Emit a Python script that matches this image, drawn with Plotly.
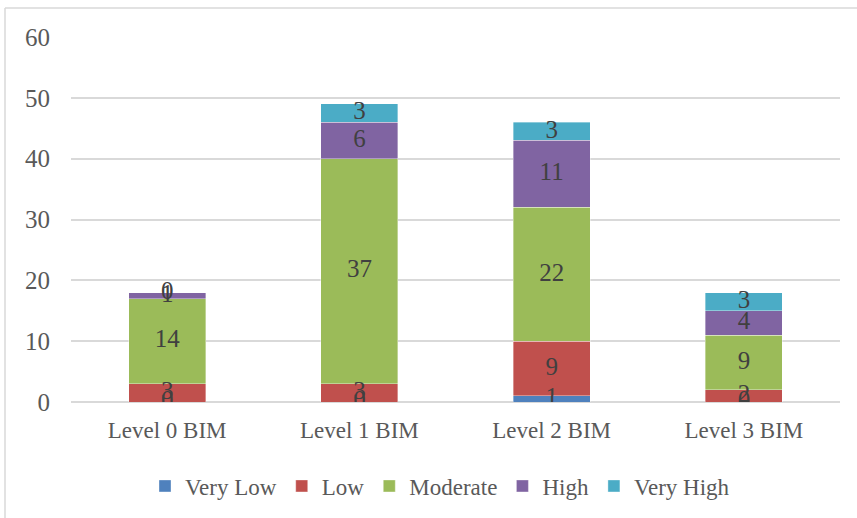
import plotly.graph_objects as go

categories = ["Level 0 BIM", "Level 1 BIM", "Level 2 BIM", "Level 3 BIM"]
series_names = ["Very Low", "Low", "Moderate", "High", "Very High"]
very_low = [0, 0, 1, 0]
low = [3, 3, 9, 2]
moderate = [14, 37, 22, 9]
high = [1, 6, 11, 4]
very_high = [0, 3, 3, 3]
colors = ["#4F81BD", "#C0504D", "#9BBB59", "#8064A2", "#4BACC6"]
y_ticks = [0, 10, 20, 30, 40, 50, 60]

series = [very_low, low, moderate, high, very_high]

FONT = "Liberation Serif"
FS = 23      # word labels
FS_NUM = 25  # numeric labels
fig = go.Figure()

for name, vals, col in zip(series_names, series, colors):
    fig.add_trace(go.Bar(
        x=categories, y=vals, name=name,
        marker=dict(color=col, line=dict(color="rgba(255,255,255,0.6)", width=0.6)),
    ))

# value labels centred on each segment (zero segments sit on the baseline)
base = [0] * len(categories)
for vals in series:
    mids = [b + v / 2 for b, v in zip(base, vals)]
    fig.add_trace(go.Scatter(
        x=categories, y=mids, mode="text", text=[str(v) for v in vals],
        textposition="middle center",
        textfont=dict(family=FONT, size=FS_NUM, color="#404040"),
        showlegend=False, hoverinfo="skip",
    ))
    base = [b + v for b, v in zip(base, vals)]

W, H = 857, 518
L, R, T, B = 71, 17, 37, 116
pw, ph = W - L - R, H - T - B


def px_x(p):
    return (p - L) / pw


def px_y(p):
    return (T + ph - p) / ph


fig.update_layout(
    width=W, height=H,
    barmode="stack", bargap=0.6,
    margin=dict(l=L, r=R, t=T, b=B, autoexpand=False),
    paper_bgcolor="white", plot_bgcolor="white",
    font=dict(family=FONT, size=FS, color="#595959"),
    xaxis=dict(showgrid=False, showline=False, ticks="", ticklabelstandoff=12,
               tickfont=dict(size=FS, color="#595959")),
    yaxis=dict(range=[0, 60], tickvals=y_ticks, showgrid=True, gridcolor="#d9d9d9", gridwidth=1.5,
               zeroline=True, zerolinecolor="#d9d9d9", zerolinewidth=1.5,
               ticks="", ticklabelstandoff=20, tickfont=dict(size=FS_NUM, color="#595959")),
    legend=dict(orientation="h", x=px_x(440), xanchor="center",
                y=px_y(486), yanchor="middle",
                font=dict(size=FS, color="#595959"), itemwidth=30, traceorder="normal"),
    shapes=[
        dict(type="line", xref="paper", yref="paper",
             x0=px_x(5), x1=px_x(5), y0=px_y(8), y1=px_y(530),
             line=dict(color="#d9d9d9", width=1.5)),
        dict(type="line", xref="paper", yref="paper",
             x0=px_x(5), x1=px_x(870), y0=px_y(8), y1=px_y(8),
             line=dict(color="#d9d9d9", width=1.5)),
    ],
)

fig.write_html("out.html")
